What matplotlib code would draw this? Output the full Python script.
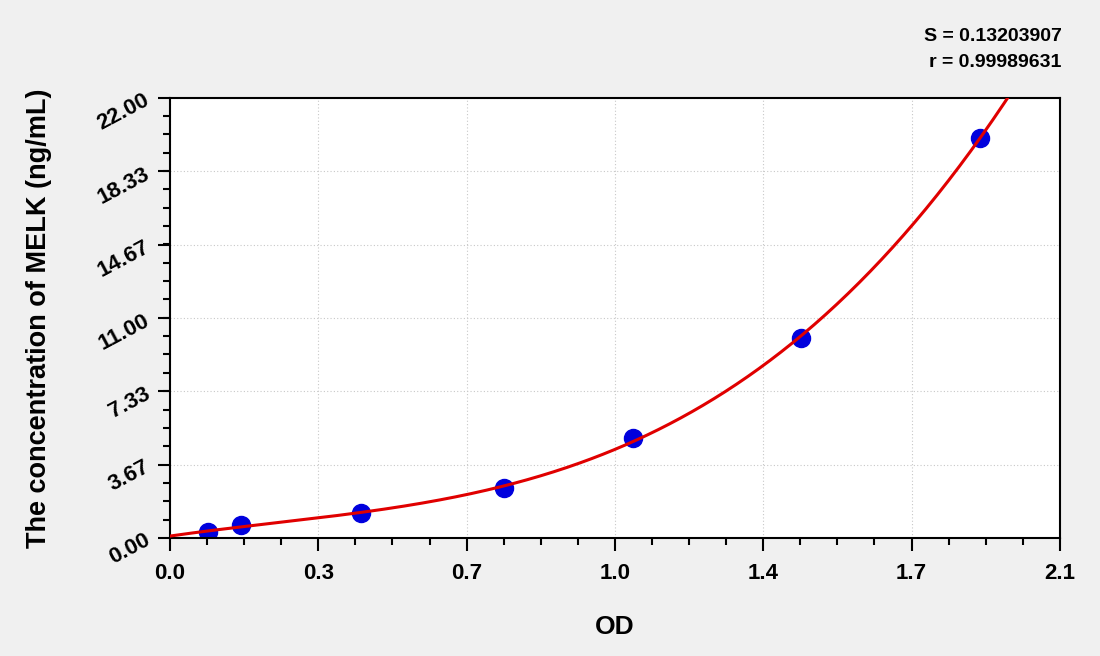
import numpy as np
import matplotlib
matplotlib.use("Agg")
from matplotlib import pyplot as plt
from matplotlib.ticker import AutoMinorLocator

# standard curve points (OD, concentration)
od = [0.090, 0.168, 0.450, 0.788, 1.093, 1.489, 1.911]
conc = [0.31, 0.63, 1.25, 2.50, 5.00, 10.00, 20.00]

x_ticks = [0.0, 0.35, 0.70, 1.05, 1.40, 1.75, 2.10]
x_labels = ["0.0", "0.3", "0.7", "1.0", "1.4", "1.7", "2.1"]
y_ticks = [0.00, 3.67, 7.33, 11.00, 14.67, 18.33, 22.00]
y_labels = ["0.00", "3.67", "7.33", "11.00", "14.67", "18.33", "22.00"]

S_val = "0.13203907"
r_val = "0.99989631"

plt.rcParams['font.family'] = ['Liberation Sans', 'DejaVu Sans']
plt.rcParams['font.weight'] = 'bold'

fig = plt.figure(figsize=(11, 6.56), dpi=100)
fig.patch.set_facecolor('#f0f0f0')
ax = fig.add_axes([0.1545, 0.1799, 0.809, 0.6707])
ax.set_facecolor('white')

# fitted curve
coef = np.polyfit(od, conc, 3)
xs = np.linspace(0, 2.1, 400)
ys = np.polyval(coef, xs)
mask = (ys <= 22.2) & (ys >= -0.2)
ax.plot(xs[mask], ys[mask], color='#e00000', lw=2.2, zorder=3)
ax.plot(od, conc, 'o', color='#0000dd', markersize=13, zorder=2)

ax.set_xlim(0, 2.1)
ax.set_ylim(0, 22)
ax.set_xticks(x_ticks)
ax.set_xticklabels(x_labels, fontsize=16, fontweight='bold')
ax.set_yticks(y_ticks)
ax.set_yticklabels(y_labels, fontsize=16, fontweight='bold', rotation=28)
ax.xaxis.set_minor_locator(AutoMinorLocator(4))
ax.yaxis.set_minor_locator(AutoMinorLocator(4))
ax.tick_params(which='major', length=9, width=1.5, direction='out')
ax.tick_params(which='minor', length=5, width=1.5, direction='out')
ax.tick_params(axis='x', pad=9)
ax.tick_params(axis='y', pad=3)
ax.grid(True, which='major', linestyle=(0, (1, 2)), color='#c8c8c8', lw=0.8)
for s in ax.spines.values():
    s.set_linewidth(1.5)

ax.set_xlabel("OD", fontsize=19, fontweight='bold', labelpad=22)
ax.set_ylabel("The concentration of MELK (ng/mL)", fontsize=19.5, fontweight='bold', labelpad=30)

fig.text(0.965, 0.945, "S = " + S_val, ha='right', va='center', fontsize=14, fontweight='bold')
fig.text(0.965, 0.905, "r = " + r_val, ha='right', va='center', fontsize=14, fontweight='bold')

fig.savefig("out.png", dpi=100, facecolor=fig.get_facecolor())
